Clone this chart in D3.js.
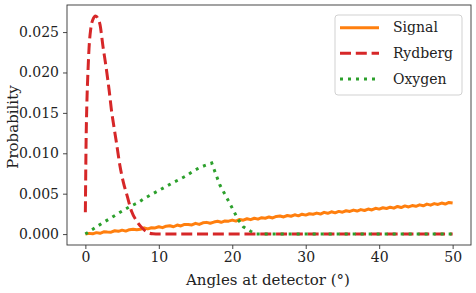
<!DOCTYPE html>
<html>
<head>
<meta charset="utf-8">
<script src="https://d3js.org/d3.v7.min.js"></script>
<style>
  body { margin: 0; background: #fff; }
</style>
</head>
<body>
<svg id="chart" width="476" height="293"></svg>
<script>
// signal: sampled every 0.5 degree from 0 to 50
var signalStep = 0.5;
var signalValues = [
  0.0e-4, 0.9e-4, 0.3e-4, 1.8e-4, 1.0e-4, 2.8e-4, 2.5e-4, 2.4e-4, 4.1e-4, 3.4e-4,
  4.9e-4, 3.7e-4, 5.5e-4, 6.1e-4, 5.4e-4, 6.0e-4, 7.7e-4, 6.4e-4, 7.9e-4, 7.6e-4,
  9.1e-4, 8.0e-4, 9.8e-4, 10.3e-4, 9.1e-4, 11.2e-4, 10.1e-4, 11.9e-4, 11.9e-4, 11.3e-4,
  13.3e-4, 12.0e-4, 13.9e-4, 14.5e-4, 13.4e-4, 14.9e-4, 15.8e-4, 14.6e-4, 16.3e-4, 16.0e-4,
  17.3e-4, 16.1e-4, 18.1e-4, 17.2e-4, 19.0e-4, 17.9e-4, 19.6e-4, 18.5e-4, 20.3e-4, 19.6e-4,
  21.2e-4, 20.0e-4, 21.8e-4, 22.3e-4, 21.2e-4, 23.0e-4, 22.1e-4, 23.9e-4, 22.6e-4, 24.6e-4,
  23.5e-4, 25.2e-4, 24.6e-4, 26.0e-4, 24.8e-4, 26.9e-4, 25.7e-4, 27.6e-4, 26.3e-4, 28.1e-4,
  27.1e-4, 28.9e-4, 28.0e-4, 29.7e-4, 28.5e-4, 30.3e-4, 29.2e-4, 31.0e-4, 29.9e-4, 31.9e-4,
  30.9e-4, 32.6e-4, 31.7e-4, 33.3e-4, 32.1e-4, 34.2e-4, 32.9e-4, 34.9e-4, 33.6e-4, 35.3e-4,
  34.4e-4, 36.2e-4, 35.0e-4, 37.1e-4, 35.8e-4, 37.7e-4, 36.7e-4, 38.4e-4, 37.2e-4, 39.2e-4,
  38.6e-4
];

var rydbergAngles = [0, 0.1, 0.2, 0.35, 0.5, 0.75, 1.0, 1.4, 1.7, 2.0, 2.4, 2.8, 3.25, 3.6, 3.8,
  4.25, 4.7, 5.15, 5.7, 6.3, 7.0, 7.9, 8.5, 9.2, 10, 50];
var rydbergValues = [0.0027, 0.0115, 0.0160, 0.0200, 0.0230, 0.0255, 0.0265, 0.0270, 0.0267, 0.0259,
  0.0232, 0.0208, 0.0177, 0.0150, 0.0138, 0.0112, 0.0085, 0.0065, 0.0047, 0.0028, 0.0016, 0.0006,
  0.0002, 0.00003, 0, 0];

var oxygenAngles = [0, 1.3, 2.2, 3.3, 4.2, 5.1, 6.05, 7.2, 8, 9, 10, 11, 12, 13.1, 13.7, 14.7, 15.5,
  16.3, 17.2, 18.3, 19.6, 20.8, 21.5, 22.5, 23.3, 50];
var oxygenValues = [0, 0.00077, 0.0013, 0.0019, 0.0024, 0.0029, 0.0034, 0.0039, 0.0044, 0.0049,
  0.0054, 0.0059, 0.0064, 0.0069, 0.0072, 0.0078, 0.0082, 0.0085, 0.0088, 0.0061, 0.0039, 0.0018,
  0.0009, 0.00035, 0, 0];

var xTicks = [0, 10, 20, 30, 40, 50];
var yTicks = [0, 0.005, 0.010, 0.015, 0.020, 0.025];
var seriesNames = ["Signal", "Rydberg", "Oxygen"];
var seriesColors = ["#ff7f0e", "#d62728", "#2ca02c"];

var FONT = "'DejaVu Serif', serif";

var signal = signalValues.map((v, i) => ({x: i * signalStep, y: v}));
var rydberg = rydbergAngles.map((a, i) => ({x: a, y: rydbergValues[i]}));
var oxygen = oxygenAngles.map((a, i) => ({x: a, y: oxygenValues[i]}));

var margin = {top: 5, right: 5, bottom: 48, left: 67};
var W = 476, H = 293;
var w = W - margin.left - margin.right, h = H - margin.top - margin.bottom;

var svg = d3.select("#chart").style("font-family", FONT);
var g = svg.append("g").attr("transform", "translate(" + margin.left + "," + margin.top + ")");

// matplotlib-like 5% margins
var xmin = 0, xmax = 50;
var ymax = d3.max(rydbergValues), ymin = 0;
var x = d3.scaleLinear().domain([xmin - 0.05 * (xmax - xmin), xmax + 0.05 * (xmax - xmin)]).range([0, w]);
var y = d3.scaleLinear().domain([ymin - 0.05 * (ymax - ymin), ymax + 0.05 * (ymax - ymin)]).range([h, 0]);

var xAxis = g.append("g").attr("transform", "translate(0," + h + ")")
  .call(d3.axisBottom(x).tickValues(xTicks).tickSize(4).tickPadding(3).tickFormat(d3.format("d")));
var yAxis = g.append("g")
  .call(d3.axisLeft(y).tickValues(yTicks).tickSize(4).tickPadding(4).tickFormat(d3.format(".3f")));
[xAxis, yAxis].forEach(a => {
  a.attr("font-family", null).attr("font-size", null);
  a.select(".domain").remove();
  a.selectAll("line").attr("stroke", "#333").attr("stroke-width", 0.9);
  a.selectAll("text").style("font-family", FONT).style("font-size", "14px").attr("fill", "#222");
});

var line = d3.line().x(d => x(d.x)).y(d => y(d.y));
var smooth = d3.line().x(d => x(d.x)).y(d => y(d.y)).curve(d3.curveMonotoneX);

g.append("path").datum(signal).attr("d", line)
  .attr("fill", "none").attr("stroke", seriesColors[0]).attr("stroke-width", 3)
  .attr("stroke-linejoin", "round");
g.append("path").datum(rydberg).attr("d", smooth)
  .attr("fill", "none").attr("stroke", seriesColors[1]).attr("stroke-width", 3)
  .attr("stroke-dasharray", "11,4.8");
g.append("path").datum(oxygen).attr("d", line)
  .attr("fill", "none").attr("stroke", seriesColors[2]).attr("stroke-width", 3)
  .attr("stroke-dasharray", "3,5");

// frame
g.append("rect").attr("width", w).attr("height", h)
  .attr("fill", "none").attr("stroke", "#333").attr("stroke-width", 0.9);

// axis labels
svg.append("text").attr("x", margin.left + w / 2 - 1).attr("y", 285)
  .attr("text-anchor", "middle").style("font-family", FONT).style("font-size", "15px")
  .attr("fill", "#222").text("Angles at detector (°)");
svg.append("text").attr("transform", "translate(18,127) rotate(-90)")
  .attr("text-anchor", "middle").style("font-family", FONT).style("font-size", "15px")
  .attr("fill", "#222").text("Probability");

// legend
var leg = svg.append("g").attr("transform", "translate(335,15)");
leg.append("rect").attr("width", 127).attr("height", 80).attr("rx", 3)
  .attr("fill", "#fff").attr("fill-opacity", 0.8).attr("stroke", "#ccc").attr("stroke-width", 0.9);
var dashes = [null, "11,4.8", "3,5"];
seriesNames.forEach((name, i) => {
  var yy = 12.7 + i * 25.6;
  leg.append("line").attr("x1", 5).attr("x2", 44).attr("y1", yy).attr("y2", yy)
    .attr("stroke", seriesColors[i]).attr("stroke-width", 3)
    .attr("stroke-dasharray", dashes[i]);
  leg.append("text").attr("x", 58).attr("y", yy).attr("dy", "0.33em")
    .style("font-family", FONT).style("font-size", "14px").attr("fill", "#222").text(name);
});
</script>
</body>
</html>
